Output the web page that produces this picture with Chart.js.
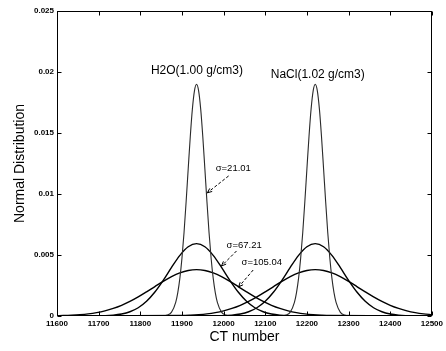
<!DOCTYPE html>
<html>
<head>
<meta charset="utf-8">
<script src="https://cdn.jsdelivr.net/npm/chart.js@4/dist/chart.umd.min.js"></script>
<style>
html, body { margin: 0; padding: 0; background: #fff; }
</style>
</head>
<body>
<canvas id="graph" width="446" height="351"></canvas>
<script>
// values (CT number vs normal density)
var h2oNarrowX = [11600, 11855, 11865, 11875, 11885, 11890, 11895, 11900, 11905, 11910, 11915, 11920, 11925, 11930, 11935,
    11940, 11945, 11950, 11955, 11960, 11965, 11970, 11975, 11980, 11985, 11995, 12005, 12015, 12500];
var naclNarrowX = [11600, 12140, 12150, 12160, 12170, 12175, 12180, 12185, 12190, 12195, 12200, 12205, 12210, 12215, 12220,
    12225, 12230, 12235, 12240, 12245, 12250, 12255, 12260, 12265, 12270, 12280, 12290, 12300, 12500];
var narrowY = [0, 0.0000135, 0.000074, 0.00032, 0.00112, 0.00192, 0.00310, 0.00474, 0.00685, 0.00936, 0.01207, 0.01472, 0.01696, 0.01846, 0.01899,
    0.01846, 0.01696, 0.01472, 0.01207, 0.00936, 0.00685, 0.00474, 0.00310, 0.00192, 0.00112, 0.00032, 0.000074, 0.0000135, 0];

var h2oMidX = [11600, 11695, 11735, 11755, 11775, 11795, 11815, 11835, 11855, 11875, 11895, 11915, 11935,
    11955, 11975, 11995, 12015, 12035, 12055, 12075, 12095, 12115, 12135, 12175, 12500];
var naclMidX = [11600, 11980, 12020, 12040, 12060, 12080, 12100, 12120, 12140, 12160, 12180, 12200, 12220,
    12240, 12260, 12280, 12300, 12320, 12340, 12360, 12380, 12400, 12420, 12460, 12500];
var midY = [0, 0.0000101, 0.0000709, 0.000164, 0.000349, 0.000678, 0.001206, 0.001963, 0.002923, 0.003985, 0.004973, 0.005679, 0.005936,
    0.005679, 0.004973, 0.003985, 0.002923, 0.001963, 0.001206, 0.000678, 0.000349, 0.000164, 0.0000709, 0.0000101, 0];

var h2oWideX = [11600, 11615, 11635, 11655, 11675, 11695, 11715, 11735, 11755, 11775, 11795, 11815, 11835, 11855, 11875, 11895, 11915, 11935,
    11955, 11975, 11995, 12015, 12035, 12055, 12075, 12095, 12115, 12135, 12155, 12175, 12195, 12215, 12235, 12255, 12500];
var h2oWideY = [0.0000235, 0.0000367, 0.0000643, 0.000109, 0.000177, 0.000279, 0.000423, 0.000620, 0.000875, 0.001191, 0.001563, 0.001978, 0.002414, 0.002842, 0.003226, 0.003532, 0.003730, 0.003798,
    0.003730, 0.003532, 0.003226, 0.002842, 0.002414, 0.001978, 0.001563, 0.001191, 0.000875, 0.000620, 0.000423, 0.000279, 0.000177, 0.000109, 0.0000643, 0.0000367, 0];
var naclWideX = [11600, 11900, 11920, 11940, 11960, 11980, 12000, 12020, 12040, 12060, 12080, 12100, 12120, 12140, 12160, 12180, 12200, 12220,
    12240, 12260, 12280, 12300, 12320, 12340, 12360, 12380, 12400, 12420, 12440, 12460, 12480, 12500];
var naclWideY = [0, 0.0000367, 0.0000643, 0.000109, 0.000177, 0.000279, 0.000423, 0.000620, 0.000875, 0.001191, 0.001563, 0.001978, 0.002414, 0.002842, 0.003226, 0.003532, 0.003730, 0.003798,
    0.003730, 0.003532, 0.003226, 0.002842, 0.002414, 0.001978, 0.001563, 0.001191, 0.000875, 0.000620, 0.000423, 0.000279, 0.000177, 0.000109];

var FONT = "'Liberation Sans', Arial, sans-serif";

// text labels in data coordinates
var labels = [
    { text: "H2O(1.00 g/cm3)", x: 11936, y: 0.0201, size: 12, align: "center" },
    { text: "NaCl(1.02 g/cm3)", x: 12226, y: 0.0198, size: 12, align: "center" },
    { text: "\u03c3=21.01", x: 11981, y: 0.0121, size: 9.5, align: "left" },
    { text: "\u03c3=67.21", x: 12007, y: 0.0058, size: 9.5, align: "left" },
    { text: "\u03c3=105.04", x: 12043, y: 0.00443, size: 9.5, align: "left" }
];
var arrows = [
    { x0: 12012, y0: 0.01148, x1: 11961, y1: 0.0101 },
    { x0: 12031, y0: 0.00533, x1: 11995, y1: 0.0041 },
    { x0: 12071, y0: 0.00377, x1: 12036, y1: 0.00238 }
];

function pts(xs, ys) {
    var out = [];
    for (var i = 0; i < xs.length; i++) out.push({ x: xs[i], y: ys[i] });
    return out;
}

function curve(data, color, width) {
    return {
        data: data,
        showLine: true,
        borderColor: color,
        borderWidth: width,
        pointRadius: 0,
        fill: false,
        cubicInterpolationMode: "monotone"
    };
}

var frame = {
    id: "frame",
    afterDraw: function(chart) {
        var ctx = chart.ctx, a = chart.chartArea;
        var xs = chart.scales.x, ys = chart.scales.y;
        ctx.save();
        ctx.strokeStyle = "#000";
        ctx.lineWidth = 1;
        var L = Math.round(a.left) + 0.5, R = Math.round(a.right) - 0.5;
        var T = Math.round(a.top) + 0.5, B = Math.round(a.bottom) - 0.5;
        ctx.strokeRect(L, T, R - L, B - T);

        // inward ticks on all four sides
        ctx.beginPath();
        xs.ticks.forEach(function(t) {
            var px = Math.round(xs.getPixelForValue(t.value)) + 0.5;
            ctx.moveTo(px, B); ctx.lineTo(px, B - 4);
            ctx.moveTo(px, T); ctx.lineTo(px, T + 4);
        });
        ys.ticks.forEach(function(t) {
            var py = Math.round(ys.getPixelForValue(t.value)) + 0.5;
            ctx.moveTo(L, py); ctx.lineTo(L + 4, py);
            ctx.moveTo(R, py); ctx.lineTo(R - 4, py);
        });
        ctx.stroke();

        // annotations
        ctx.fillStyle = "#000";
        ctx.textBaseline = "middle";
        labels.forEach(function(l) {
            ctx.font = l.size + "px " + FONT;
            ctx.textAlign = l.align;
            ctx.fillText(l.text, xs.getPixelForValue(l.x), ys.getPixelForValue(l.y));
        });
        arrows.forEach(function(ar) {
            var x0 = xs.getPixelForValue(ar.x0), y0 = ys.getPixelForValue(ar.y0);
            var x1 = xs.getPixelForValue(ar.x1), y1 = ys.getPixelForValue(ar.y1);
            ctx.setLineDash([3, 2]);
            ctx.beginPath();
            ctx.moveTo(x0, y0); ctx.lineTo(x1, y1);
            ctx.stroke();
            ctx.setLineDash([]);
            var ang = Math.atan2(y1 - y0, x1 - x0);
            ctx.beginPath();
            ctx.moveTo(x1, y1);
            ctx.lineTo(x1 - 5 * Math.cos(ang - 0.4), y1 - 5 * Math.sin(ang - 0.4));
            ctx.moveTo(x1, y1);
            ctx.lineTo(x1 - 5 * Math.cos(ang + 0.4), y1 - 5 * Math.sin(ang + 0.4));
            ctx.stroke();
        });

        // axis titles
        ctx.font = "14px " + FONT;
        ctx.textAlign = "center";
        ctx.fillText("CT number", (a.left + a.right) / 2, 337);
        ctx.translate(20, (a.top + a.bottom) / 2);
        ctx.rotate(-Math.PI / 2);
        ctx.fillText("Normal Distribution", 0, 0);
        ctx.restore();
    }
};

Chart.defaults.color = "#000";
Chart.defaults.font.family = FONT;

var ctx = document.getElementById("graph").getContext("2d");
var chart = new Chart(ctx, {
    type: "scatter",
    data: {
        datasets: [
            curve(pts(h2oNarrowX, narrowY), "#2a2a2a", 1.1),
            curve(pts(naclNarrowX, narrowY), "#2a2a2a", 1.1),
            curve(pts(h2oMidX, midY), "#000", 1.4),
            curve(pts(naclMidX, midY), "#000", 1.4),
            curve(pts(h2oWideX, h2oWideY), "#000", 1.4),
            curve(pts(naclWideX, naclWideY), "#000", 1.4)
        ]
    },
    options: {
        responsive: false,
        animation: false,
        layout: { padding: { top: 11, right: 11, left: 0, bottom: 0 } },
        plugins: { legend: { display: false }, tooltip: { enabled: false } },
        scales: {
            x: {
                type: "linear",
                min: 11600,
                max: 12500,
                grid: { display: false, drawTicks: false },
                border: { display: false },
                ticks: {
                    stepSize: 100,
                    padding: 3,
                    maxRotation: 0,
                    font: { size: 8, weight: "bold" },
                    callback: function(v) { return String(v); }
                },
                afterFit: function(scale) { scale.height = 35; }
            },
            y: {
                min: 0,
                max: 0.025,
                grid: { display: false, drawTicks: false },
                border: { display: false },
                ticks: {
                    stepSize: 0.005,
                    padding: 3,
                    font: { size: 8, weight: "bold" },
                    callback: function(v) { return String(+v.toFixed(3)); }
                },
                afterFit: function(scale) { scale.width = 57; }
            }
        }
    },
    plugins: [frame]
});
</script>
</body>
</html>
